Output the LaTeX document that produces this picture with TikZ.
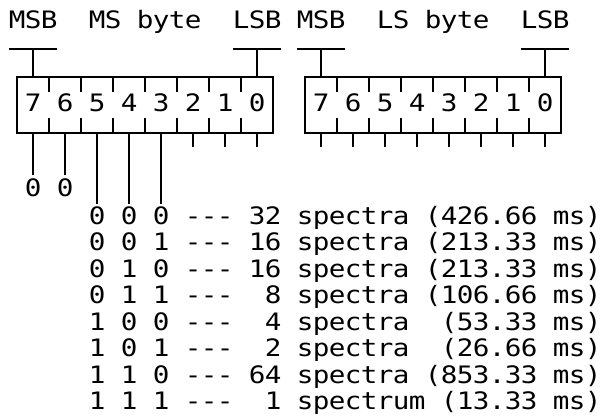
\documentclass[tikz,border=0pt]{standalone}
\usepackage{fontspec}
\newfontfamily\bobfont[FakeStretch=1.15]{DejaVu Sans Mono}
% one character per 12pt cell, spaces written as ~
\newcommand{\charrow}[1]{\charstep#1\relax}
\newcommand{\charstep}[1]{\ifx#1\relax\else\makebox[12pt]{#1}\expandafter\charstep\fi}

\begin{document}
\begin{tikzpicture}[x=0.75pt, y=-0.75pt,
  bob/.style={anchor=base west, inner sep=0pt,
              font=\bobfont\fontsize{18pt}{21pt}\selectfont},
  wire/.style={line width=1.5pt},
]
\useasboundingbox (0,0) rectangle (601,417);

\node[bob] (head) at (9,29) {\charrow{MSB~~MS~byte~~LSB~MSB~~LS~byte~~LSB}};

% the two bytes
\foreach \bx/\nm in {17/ms, 305/ls} {
  \draw[wire] (\bx,77) rectangle ++(256,56);
  \foreach \k in {1,...,7} {
    \draw[wire] (\bx+32*\k,77) -- ++(0,15);
    \draw[wire] (\bx+32*\k,133) -- ++(0,-15);
  }
  \node[bob] (\nm-digits) at (\bx+8,112) {\charrow{7~6~5~4~3~2~1~0}};
  \foreach \b in {0,...,7}
    \coordinate (\nm\b) at (\bx+16+32*7-32*\b,133);
  % MSB and LSB markers
  \draw[wire] (\bx-8,49) -- ++(48,0);
  \draw[wire] (\bx+16,49) -- (\nm7 |- 0,77);
  \draw[wire] (\bx+216,49) -- ++(48,0);
  \draw[wire] (\bx+240,49) -- (\nm0 |- 0,77);
}

% unused bits
\foreach \b in {0,1,2} \draw[wire] (ms\b) -- ++(0,14);
\foreach \b in {0,...,7} \draw[wire] (ls\b) -- ++(0,14);

\node[bob] (fixed) at (25,196.5) {\charrow{0~0}};
\foreach [count=\i] \txt in {
    0~0~0~---~32~spectra~(426.66~ms),
    0~0~1~---~16~spectra~(213.33~ms),
    0~1~0~---~16~spectra~(213.33~ms),
    0~1~1~---~~8~spectra~(106.66~ms),
    1~0~0~---~~4~spectra~~(53.33~ms),
    1~0~1~---~~2~spectra~~(26.66~ms),
    1~1~0~---~64~spectra~(853.33~ms),
    1~1~1~---~~1~spectrum~(13.33~ms)}
  \node[bob] (mode\i) at (89,{224.5+26.5*(\i-1)}) {\expandafter\charrow\expandafter{\txt}};

\foreach \b in {7,6} \draw[wire, shorten >=2.5pt] (ms\b) -- (ms\b |- fixed.north);
\foreach \b in {5,4,3} \draw[wire, shorten >=1.5pt] (ms\b) -- (ms\b |- mode1.north);

\end{tikzpicture}
\end{document}
